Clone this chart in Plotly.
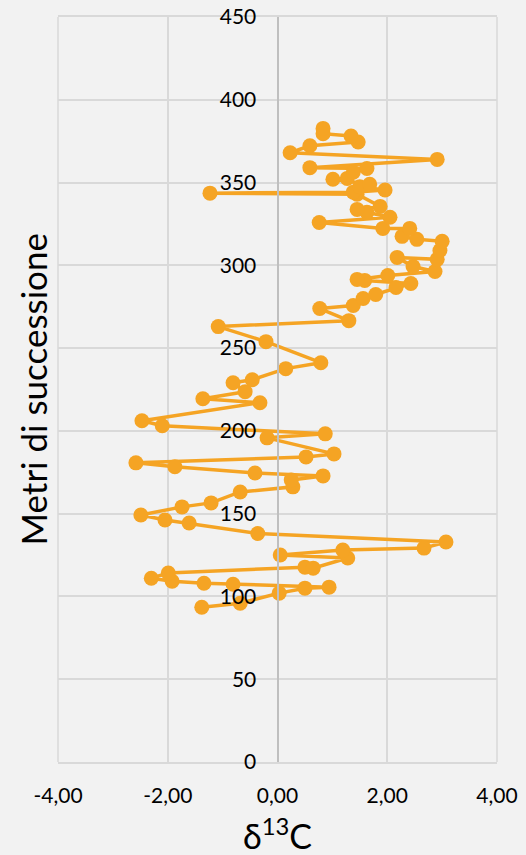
import plotly.graph_objects as go

# δ13C profile along the stratigraphic succession (metres)
delta13c = [
    -1.38, -0.68, 0.03, 0.50, 0.94, -0.81, -1.34, -1.92, -2.30, -1.99,
    0.50, 0.65, 1.28, 0.05, 1.19, 2.67, 3.07, -0.36, -1.61, -2.05,
    -2.49, -1.74, -1.21, -0.68, 0.28, 0.25, 0.83, -0.41, -1.87, -2.58,
    0.52, 1.03, -0.19, 0.87, -2.10, -2.47, -0.32, -1.36, -0.59, -0.81,
    -0.46, 0.15, 0.79, -0.21, -1.08, 1.30, 0.77, 1.38, 1.56, 1.79,
    2.16, 2.43, 1.59, 1.45, 2.01, 2.87, 2.47, 2.18, 2.91, 2.96,
    3.00, 2.54, 2.27, 2.41, 1.92, 0.76, 2.05, 1.63, 1.45, 1.87,
    1.45, -1.23, 1.38, 1.96, 1.50, 1.68, 1.01, 1.27, 1.38, 1.63,
    0.59, 2.91, 0.23, 0.59, 1.47, 1.34, 0.83, 0.83,
]
metres = [
    93.5, 95.9, 102.0, 105.0, 105.6, 107.4, 108.0, 109.2, 111.0, 114.1,
    117.7, 117.1, 123.2, 125.0, 128.0, 129.2, 132.9, 138.0, 144.4, 146.2,
    149.2, 154.1, 156.5, 163.1, 166.2, 170.4, 172.8, 174.6, 178.3, 180.7,
    184.3, 186.1, 195.8, 198.2, 203.1, 206.1, 217.0, 219.4, 223.7, 229.1,
    230.9, 237.6, 241.2, 253.9, 263.0, 266.6, 273.9, 275.7, 280.0, 282.4,
    286.6, 289.0, 290.9, 291.5, 293.9, 296.3, 299.3, 304.8, 303.6, 309.0,
    314.5, 315.7, 317.5, 322.3, 322.3, 325.9, 329.0, 332.1, 333.8, 335.6,
    343.0, 343.6, 344.2, 345.5, 347.5, 349.0, 352.0, 352.5, 356.2, 358.5,
    359.0, 364.0, 368.0, 372.2, 374.5, 378.1, 379.5, 382.7,
]

x_tick_values = [-4, -2, 0, 2, 4]
x_tick_labels = ["-4,00", "-2,00", "0,00", "2,00", "4,00"]
y_tick_values = [0, 50, 100, 150, 200, 250, 300, 350, 400, 450]

ORANGE = "#F5A424"
GRID = "#D9D9D9"
BG = "#F2F2F2"
FONT = "Lato, 'Open Sans', sans-serif"

fig = go.Figure()
fig.add_trace(go.Scatter(
    x=delta13c,
    y=metres,
    mode="lines+markers",
    line=dict(color=ORANGE, width=3.5),
    marker=dict(color=ORANGE, size=15),
    showlegend=False,
    cliponaxis=False,
))

fig.update_layout(
    width=526,
    height=855,
    paper_bgcolor=BG,
    plot_bgcolor=BG,
    margin=dict(l=58, r=29, t=17, b=93, autoexpand=False),
    font=dict(family=FONT, color="#000000"),
    xaxis=dict(
        range=[-4, 4],
        tickvals=x_tick_values,
        ticktext=x_tick_labels,
        showgrid=True,
        gridcolor=GRID,
        gridwidth=1.5,
        zeroline=False,
        showline=True,
        mirror=True,
        linecolor=GRID,
        linewidth=1.5,
        ticks="outside",
        ticklen=14,
        tickcolor="rgba(0,0,0,0)",
        tickfont=dict(size=21, family=FONT),
        automargin=False,
        fixedrange=True,
    ),
    yaxis=dict(
        range=[0, 450],
        tickvals=y_tick_values,
        showgrid=True,
        gridcolor=GRID,
        gridwidth=1.5,
        zeroline=False,
        showline=True,
        linecolor="#BFBFBF",
        linewidth=2,
        anchor="free",
        position=0.5,
        ticks="outside",
        ticklen=16,
        tickcolor="rgba(0,0,0,0)",
        tickfont=dict(size=21, family=FONT),
        automargin=False,
        fixedrange=True,
    ),
    shapes=[
        # plot-area frame (left and right edges)
        dict(type="line", xref="paper", yref="paper", x0=0, x1=0, y0=0, y1=1,
             line=dict(color=GRID, width=1.5), layer="below"),
        dict(type="line", xref="paper", yref="paper", x0=1, x1=1, y0=0, y1=1,
             line=dict(color=GRID, width=1.5), layer="below"),
    ],
    annotations=[
        dict(
            text="δ<sup>13</sup>C",
            xref="paper", yref="paper",
            x=0.5, y=-0.097,
            xanchor="center", yanchor="middle",
            showarrow=False,
            font=dict(size=34, family=FONT),
        ),
        dict(
            text="Metri di successione",
            xref="paper", yref="paper",
            x=-0.057, y=0.5,
            xanchor="center", yanchor="middle",
            textangle=-90,
            showarrow=False,
            font=dict(size=35, family=FONT),
        ),
    ],
)

fig.write_html("out.html")
